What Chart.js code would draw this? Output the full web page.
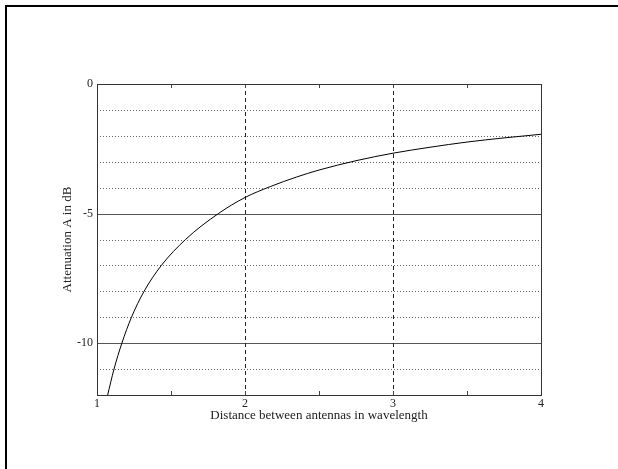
<!DOCTYPE html>
<html>
<head>
<meta charset="utf-8">
<script src="https://cdn.jsdelivr.net/npm/chart.js@4/dist/chart.umd.min.js"></script>
<style>
  html, body { margin: 0; padding: 0; background: #fff; }
  #wrap { position: relative; width: 618px; height: 469px; overflow: hidden; }
  #frame { position: absolute; left: 5px; top: 5px; width: 640px; height: 500px;
           border-left: 2px solid #000; border-top: 2px solid #000; box-sizing: border-box; pointer-events: none; }
  canvas { position: absolute; left: 0; top: 0; }
</style>
</head>
<body>
<div id="wrap">
  <canvas id="c" width="618" height="469"></canvas>
  <div id="frame"></div>
</div>
<script>
// Data
const distance    = [1.072, 1.115, 1.168, 1.233, 1.318, 1.435, 1.598, 1.820, 2.000, 2.170, 2.348, 2.500, 2.750, 3.000, 3.250, 3.500, 3.750, 4.000];
const attenuation = [-12.0, -11.0, -10.0, -9.0, -8.0, -7.0, -6.0, -5.0, -4.38, -3.96, -3.59, -3.32, -2.96, -2.67, -2.44, -2.24, -2.08, -1.94];
const xLabelValues = [1, 2, 3, 4];
const yLabelValues = [0, -5, -10];

const points = distance.map((d, i) => ({ x: d, y: attenuation[i] }));

const gridPlugin = {
  id: 'matlabGrid',
  beforeDatasetsDraw(chart) {
    const { ctx, chartArea: a, scales: { x, y } } = chart;
    ctx.save();
    ctx.lineWidth = 1;
    y.ticks.forEach(t => {
      const v = t.value;
      if (v <= y.min || v >= y.max) return;
      const py = Math.round(y.getPixelForValue(v)) + 0.5;
      if (v % 5 === 0) { ctx.setLineDash([]); ctx.strokeStyle = '#555'; }
      else { ctx.setLineDash([1, 2]); ctx.strokeStyle = '#666'; }
      ctx.beginPath(); ctx.moveTo(a.left, py); ctx.lineTo(a.right, py); ctx.stroke();
    });
    x.ticks.forEach(t => {
      const v = t.value;
      const px = Math.round(x.getPixelForValue(v)) + 0.5;
      if (v > x.min && v < x.max) {
        if (Number.isInteger(v)) {
          ctx.setLineDash([4, 3]); ctx.strokeStyle = '#222';
          ctx.beginPath(); ctx.moveTo(px, a.top); ctx.lineTo(px, a.bottom); ctx.stroke();
        }
        ctx.setLineDash([]); ctx.strokeStyle = '#444';
        ctx.beginPath(); ctx.moveTo(px, a.top); ctx.lineTo(px, a.top + 4);
        ctx.moveTo(px, a.bottom); ctx.lineTo(px, a.bottom - 4); ctx.stroke();
      }
    });
    ctx.restore();
  },
  afterDatasetsDraw(chart) {
    const { ctx, chartArea: a } = chart;
    ctx.save();
    ctx.setLineDash([]);
    ctx.strokeStyle = '#333';
    ctx.lineWidth = 1;
    ctx.strokeRect(Math.round(a.left) + 0.5, Math.round(a.top) + 0.5,
                   Math.round(a.right - a.left), Math.round(a.bottom - a.top));
    ctx.restore();
  }
};

const serif = "'Liberation Serif', 'DejaVu Serif', serif";

new Chart(document.getElementById('c'), {
  type: 'line',
  data: {
    datasets: [{
      data: points,
      borderColor: '#000',
      borderWidth: 1,
      pointRadius: 0,
      fill: false,
      cubicInterpolationMode: 'monotone'
    }]
  },
  options: {
    responsive: false,
    animation: false,
    events: [],
    layout: { padding: { left: 58, right: 77, top: 84, bottom: 46 } },
    plugins: { legend: { display: false }, tooltip: { enabled: false } },
    scales: {
      x: {
        type: 'linear', min: 1, max: 4,
        afterFit(s) { s.height = 28; },
        ticks: {
          stepSize: 0.5, autoSkip: false, maxRotation: 0, padding: 2,
          color: '#222', font: { family: serif, size: 12 },
          callback: v => xLabelValues.includes(v) ? String(v) : ''
        },
        grid: { display: false, drawTicks: false },
        border: { display: false },
        title: {
          display: true, text: 'Distance between antennas in wavelength',
          color: '#222', font: { family: serif, size: 13 }, padding: { top: 0, bottom: 0 }
        }
      },
      y: {
        type: 'linear', min: -12, max: 0,
        afterFit(s) { s.width = 39; },
        ticks: {
          stepSize: 1, autoSkip: false, padding: 4,
          color: '#222', font: { family: serif, size: 12 },
          callback: v => yLabelValues.includes(v) ? String(v) : ''
        },
        grid: { display: false, drawTicks: false },
        border: { display: false },
        title: {
          display: true, text: 'Attenuation A in dB',
          color: '#222', font: { family: serif, size: 13 }, padding: { top: 2, bottom: 0 }
        }
      }
    }
  },
  plugins: [gridPlugin]
});
</script>
</body>
</html>
